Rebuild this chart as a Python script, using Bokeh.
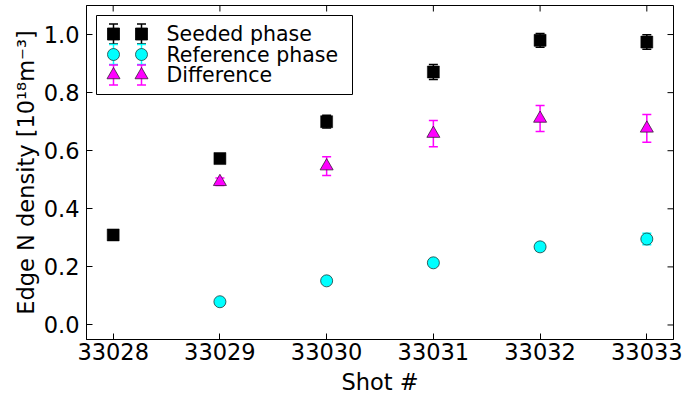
from bokeh.plotting import figure
from bokeh.models import (ColumnDataSource, Whisker, TeeHead, Range1d, FixedTicker,
                          NumeralTickFormatter)
from bokeh.core.properties import value
from bokeh.embed import file_html
from bokeh.resources import INLINE

# ---- data -------------------------------------------------------------
shots = [33028, 33029, 33030, 33031, 33032, 33033]
seeded = [0.310, 0.573, 0.700, 0.871, 0.980, 0.974]
seeded_err = [0.006, 0.008, 0.022, 0.026, 0.024, 0.025]

ref_shots = [33029, 33030, 33031, 33032, 33033]
reference = [0.080, 0.152, 0.214, 0.269, 0.296]
reference_err = [0.005, 0.006, 0.008, 0.014, 0.020]

diff_shots = [33029, 33030, 33031, 33032, 33033]
difference = [0.493, 0.547, 0.659, 0.711, 0.677]
difference_err = [0.013, 0.032, 0.045, 0.045, 0.048]

x_ticks = [33028, 33029, 33030, 33031, 33032, 33033]
y_ticks = [0.0, 0.2, 0.4, 0.6, 0.8, 1.0]
series_names = ["Seeded phase", "Reference phase", "Difference"]

# ---- styling ----------------------------------------------------------
FONT = "DejaVu Sans"
BLACK = "#000000"
CYAN = "#00ffff"
MAGENTA = "#ff00ff"

X0, X1 = 33027.75, 33033.25
Y0, Y1 = -0.05, 1.10
W, H = 684, 398
FRAME_L, FRAME_R, FRAME_T, FRAME_B = 86, 673, 5, 339
TICK_LEN = 6

p = figure(width=W, height=H, output_backend="svg", toolbar_location=None,
           x_range=Range1d(X0, X1), y_range=Range1d(Y0, Y1),
           min_border_left=FRAME_L, min_border_right=W - FRAME_R,
           min_border_top=FRAME_T, min_border_bottom=H - FRAME_B,
           background_fill_color="white", border_fill_color="white")
p.grid.visible = False
p.outline_line_color = BLACK
p.outline_line_width = 1

for ax in (p.xaxis[0], p.yaxis[0]):
    ax.axis_line_color = BLACK
    ax.axis_line_width = 1
    ax.major_tick_line_color = BLACK
    ax.major_tick_in = TICK_LEN
    ax.major_tick_out = 0
    ax.minor_tick_line_color = None
    ax.major_label_text_color = BLACK
    ax.major_label_text_font = FONT
    ax.major_label_text_font_size = "22.5px"
    ax.axis_label_text_font = FONT
    ax.axis_label_text_font_size = "22.5px"
    ax.axis_label_text_font_style = "normal"
    ax.axis_label_text_color = BLACK

p.xaxis.ticker = FixedTicker(ticks=x_ticks)
p.xaxis.formatter = NumeralTickFormatter(format="0")
p.yaxis.ticker = FixedTicker(ticks=y_ticks)
p.yaxis.formatter = NumeralTickFormatter(format="0.0")
p.xaxis.axis_label = "Shot #"
p.yaxis.axis_label = "Edge N density [10\u00b9\u2078m\u207b\u00b3]"
p.xaxis.major_label_standoff = 3
p.yaxis.major_label_standoff = 7
p.xaxis.axis_label_standoff = 6
p.yaxis.axis_label_standoff = 2

# pixel -> data helpers (used for the mirrored ticks and the legend block)
sx = (X1 - X0) / (FRAME_R - FRAME_L)
sy = (Y1 - Y0) / (FRAME_B - FRAME_T)


def px_x(px):
    return X0 + (px - FRAME_L) * sx


def px_y(py):
    return Y1 - (py - FRAME_T) * sy


# mirrored inward ticks on the top and right edges
p.segment(x0=x_ticks, x1=x_ticks, y0=[Y1] * len(x_ticks),
          y1=[Y1 - TICK_LEN * sy] * len(x_ticks), line_color=BLACK, line_width=1)
p.segment(x0=[X1] * len(y_ticks), x1=[X1 - TICK_LEN * sx] * len(y_ticks),
          y0=y_ticks, y1=y_ticks, line_color=BLACK, line_width=1)

# ---- data sources -----------------------------------------------------
src_seed = ColumnDataSource(dict(
    x=shots, y=seeded,
    lo=[v - e for v, e in zip(seeded, seeded_err)],
    hi=[v + e for v, e in zip(seeded, seeded_err)]))
src_ref = ColumnDataSource(dict(
    x=ref_shots, y=reference,
    lo=[v - e for v, e in zip(reference, reference_err)],
    hi=[v + e for v, e in zip(reference, reference_err)]))
src_diff = ColumnDataSource(dict(
    x=diff_shots, y=difference,
    lo=[v - e for v, e in zip(difference, difference_err)],
    hi=[v + e for v, e in zip(difference, difference_err)]))


def add_errorbars(src, color):
    w = Whisker(source=src, base="x", lower="lo", upper="hi", dimension="height",
                line_color=color, line_width=1.5,
                upper_head=TeeHead(size=9, line_color=color, line_width=1.5),
                lower_head=TeeHead(size=9, line_color=color, line_width=1.5))
    p.add_layout(w)


add_errorbars(src_seed, BLACK)
add_errorbars(src_ref, CYAN)
add_errorbars(src_diff, MAGENTA)

p.scatter("x", "y", source=src_seed, marker="square", size=12,
          fill_color=BLACK, line_color=BLACK, line_width=0.5)
p.scatter("x", "y", source=src_ref, marker="circle", size=12,
          fill_color=CYAN, line_color="#1a3a3a", line_width=0.8)
p.scatter("x", "y", source=src_diff, marker="triangle", size=13,
          fill_color=MAGENTA, line_color="#3a1a3a", line_width=0.8)

# ---- legend (two sample points per entry) ----------------------------
p.quad(left=[px_x(96)], right=[px_x(352)], top=[px_y(15)], bottom=[px_y(94)],
       fill_color="white", line_color=BLACK, line_width=1)

rows_py = [33.5, 54, 74.5]
cols_px = [113, 141]
colors = [BLACK, CYAN, MAGENTA]
markers = ["square", "circle", "triangle"]
m_fill = [BLACK, CYAN, MAGENTA]
m_line = [BLACK, "#1a3a3a", "#3a1a3a"]
m_size = [12, 12, 13]
for i, name in enumerate(series_names):
    yc = px_y(rows_py[i])
    yt = px_y(rows_py[i] - 10)
    yb = px_y(rows_py[i] + 10)
    xs = [px_x(c) for c in cols_px]
    half = 4.5 * sx
    p.segment(x0=xs, y0=[yb] * 2, x1=xs, y1=[yt] * 2, line_color=colors[i], line_width=1.5)
    p.segment(x0=[x - half for x in xs] * 2, x1=[x + half for x in xs] * 2,
              y0=[yt, yt, yb, yb], y1=[yt, yt, yb, yb],
              line_color=colors[i], line_width=1.5)
    p.scatter(x=xs, y=[yc] * 2, marker=markers[i], size=m_size[i],
              fill_color=m_fill[i], line_color=m_line[i], line_width=0.8)
    p.text(x=[px_x(166)], y=[yc], text=[name], text_font=value(FONT),
           text_font_size=value("20.5px"), text_baseline="middle",
           text_align="left", text_color=BLACK)

open("out.html", "w").write(file_html(p, INLINE))
